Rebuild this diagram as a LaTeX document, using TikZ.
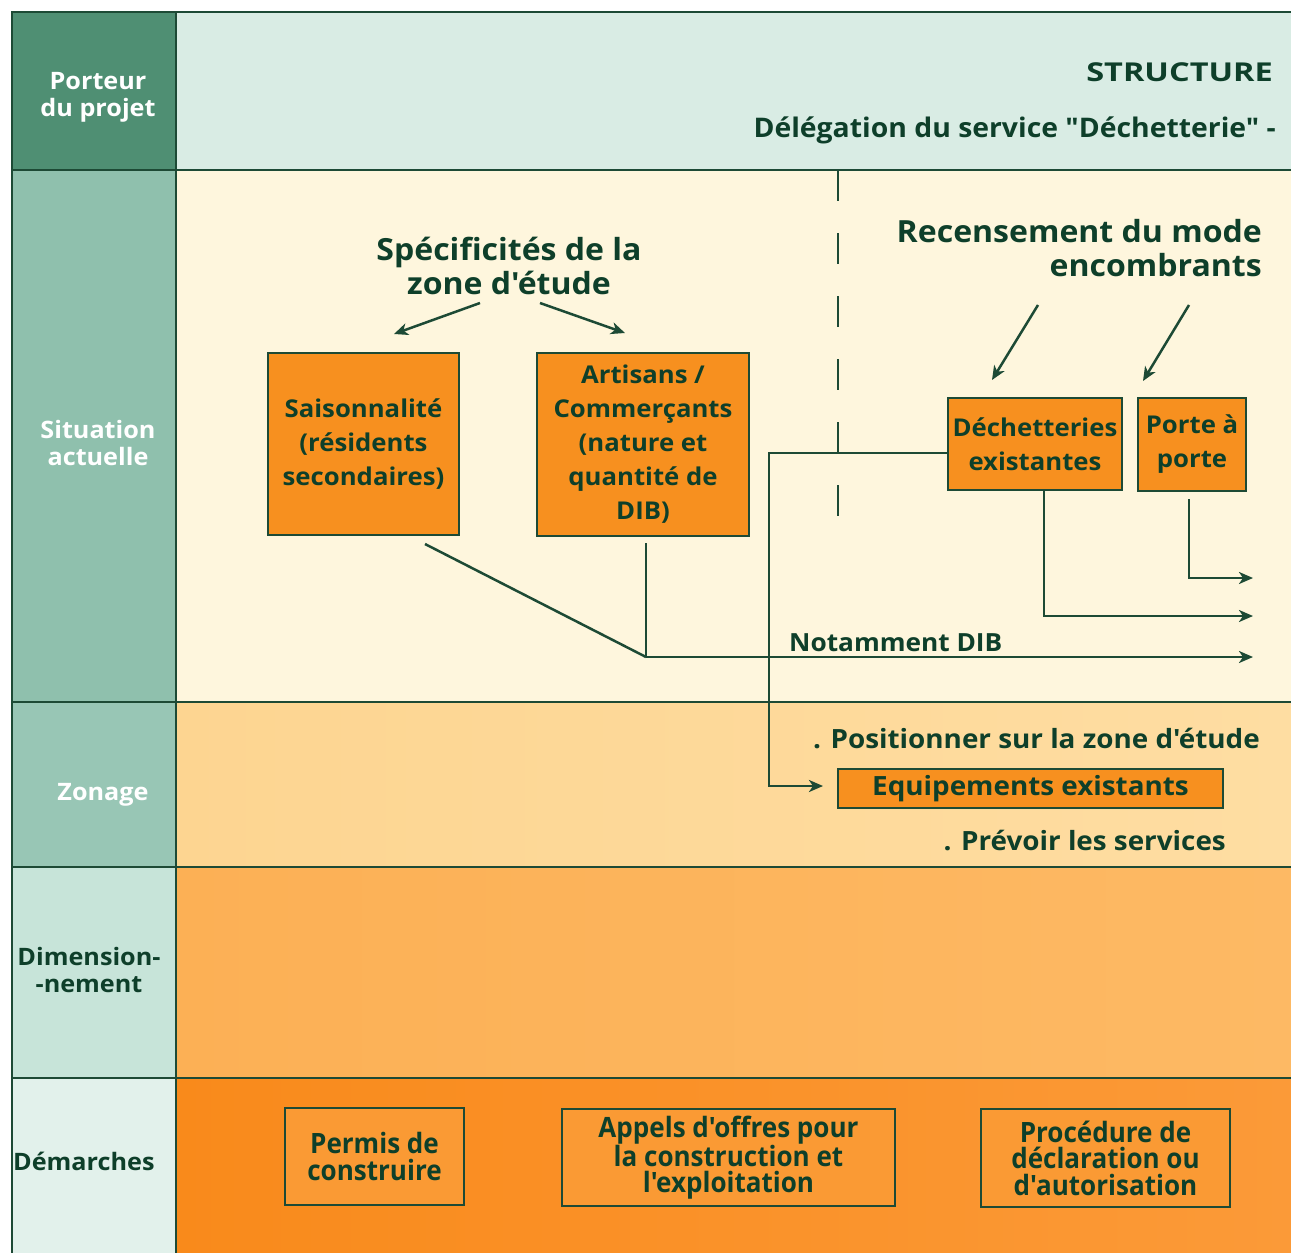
\documentclass[tikz,border=0pt]{standalone}
\usepackage{fontspec}
\newfontfamily\gs{Open Sans}[FakeStretch=1.05]
\newfontfamily\gswide{Open Sans}[FakeStretch=1.25]
\newfontfamily\gscond{Open Sans}[FakeStretch=0.93]
\usetikzlibrary{arrows.meta}

\definecolor{ink}{HTML}{0E3F2A}
\definecolor{rulec}{HTML}{1D4A35}
\definecolor{labA}{HTML}{4F8F73}
\definecolor{labB}{HTML}{8FC0AD}
\definecolor{labC}{HTML}{98C6B5}
\definecolor{labD}{HTML}{C7E4D9}
\definecolor{labE}{HTML}{E2F1EB}
\definecolor{bandA}{HTML}{D9ECE4}
\definecolor{bandB}{HTML}{FEF6DD}
\definecolor{bandC}{HTML}{FDD591}
\definecolor{bandCr}{HTML}{FEDDA2}
\definecolor{bandD}{HTML}{FCB055}
\definecolor{bandDr}{HTML}{FDB964}
\definecolor{bandE}{HTML}{F98A1B}
\definecolor{bandEr}{HTML}{FB9A38}
\definecolor{boxfill}{HTML}{F7901F}
\definecolor{boxlight}{HTML}{FA9A34}

\tikzset{
  frameline/.style={draw=rulec, line width=2.5pt},
  link/.style={draw=rulec, line width=2.5pt},
  arrowline/.style={link, -{Stealth[length=14pt,width=12pt,inset=4pt]}},
  lbl/.style={font=\gs\fontsize{24}{27}\selectfont\bfseries, align=center, inner sep=0pt},
  txt/.style={text=ink, font=\gs\fontsize{25}{34}\selectfont\bfseries, inner sep=0pt},
  linetxt/.style={text=ink, font=\gs\fontsize{26.5}{30}\selectfont\bfseries, inner sep=0pt},
  bigtxt/.style={text=ink, font=\gs\fontsize{30.5}{34}\selectfont\bfseries, inner sep=0pt},
  obox/.style={draw=rulec, line width=2pt, fill=boxfill, text=ink,
    font=\gs\fontsize{24.5}{34}\selectfont\bfseries, align=center, inner sep=0pt},
  dbox/.style={draw=rulec, line width=2pt, fill=boxlight, text=ink,
    font=\gscond\fontsize{28}{26.5}\selectfont\bfseries, align=center, inner sep=0pt},
}

\begin{document}
\begin{tikzpicture}[x=1pt,y=-1pt]
\useasboundingbox (0,0) rectangle (1291,1253);
\fill[white] (0,0) rectangle (1291,1253);

% row bands
\fill[bandA] (176,12) rectangle (1291,170);
\fill[bandB] (176,170) rectangle (1291,702);
\shade[left color=bandC, right color=bandCr] (176,702) rectangle (1291,867);
\shade[left color=bandD, right color=bandDr] (176,867) rectangle (1291,1078);
\shade[left color=bandE, right color=bandEr] (176,1078) rectangle (1291,1253);

% heading column
\fill[labA] (12,12) rectangle (176,170);
\fill[labB] (12,170) rectangle (176,702);
\fill[labC] (12,702) rectangle (176,867);
\fill[labD] (12,867) rectangle (176,1078);
\fill[labE] (12,1078) rectangle (176,1253);

% grid
\draw[frameline] (1291,12) -- (12,12) -- (12,1253);
\draw[frameline] (176,12) -- (176,1253);
\foreach \yy in {170,702,867,1078} \draw[frameline] (12,\yy) -- (1291,\yy);

% column headings
\node[lbl, text=white] (hPorteur) at (98,97.5) {Porteur\\du projet};
\node[lbl, text=white] (hSituation) at (98,442.5) {Situation\\actuelle};
\node[lbl, text=white, anchor=base] (hZonage) at (103,800) {Zonage};
\node[lbl, text=ink] (hDim) at (89,969.5) {Dimension-\\-nement};
\node[lbl, text=ink, anchor=base west] (hDem) at (13,1170) {Démarches};

% top row
\node[txt, font=\gswide\fontsize{26}{30}\selectfont\bfseries, anchor=base east] (structure) at (1273,81) {STRUCTURE};
\node[txt, font=\gs\fontsize{27}{30}\selectfont\bfseries, anchor=base east] (delegation) at (1276,137) {Délégation du service "Déchetterie" -};

% separator
\draw[rulec, line width=2pt, dash pattern=on 31pt off 32pt] (838,170) -- (838,523);

% current situation
\node[bigtxt, align=center] (spec) at (509,265.5) {Spécificités de la\\zone d'étude};
\node[bigtxt, align=right, anchor=east] (recens) at (1262,248.5) {Recensement du mode\\encombrants};

\node[obox, minimum width=191pt, minimum height=182pt] (sais) at (363.5,444) {Saisonnalité\\(résidents\\secondaires)};
\node[obox, minimum width=212pt, minimum height=183pt] (art) at (643,444.5) {Artisans /\\Commerçants\\(nature et\\quantité de\\DIB)};
\node[obox, minimum width=174pt, minimum height=92pt] (dech) at (1035,444) {Déchetteries\\existantes};
\node[obox, minimum width=108pt, minimum height=93pt] (porte) at (1192,444.5) {Porte à\\porte};

\coordinate (specL) at (480,303);
\coordinate (specLend) at (394,334);
\coordinate (specR) at (540,303);
\coordinate (specRend) at (625,333);
\draw[arrowline] (specL) -- (specLend);
\draw[arrowline] (specR) -- (specRend);

\coordinate (recA) at (1038,305);
\coordinate (recAend) at (992,380);
\coordinate (recB) at (1189,305);
\coordinate (recBend) at (1143,381);
\draw[arrowline] (recA) -- (recAend);
\draw[arrowline] (recB) -- (recBend);

\coordinate (hub) at (646,657);
\coordinate (dibEnd) at (1253,657);
\coordinate (dechEnd) at (1253,616);
\coordinate (porteEnd) at (1253,578);
\draw[link] ([shift={(61.5,8)}]sais.south) -- (hub);
\draw[link] ([shift={(3,6)}]art.south) -- (hub);
\draw[arrowline] (hub) -- (dibEnd);
\node[txt, anchor=base west] (notamment) at (789,651) {Notamment DIB};
\draw[arrowline] ([shift={(9,0)}]dech.south) |- (dechEnd);
\draw[arrowline] ([shift={(-3,7)}]porte.south) |- (porteEnd);

% zoning
\node[linetxt, anchor=base east] (posit) at (1260,748) {. Positionner sur la zone d'étude};
\node[obox, font=\gs\fontsize{26.5}{30}\selectfont\bfseries, minimum width=385pt, minimum height=39pt] (equip) at (1030.5,788.5) {Equipements existants};
\node[linetxt, anchor=base east] (prevoir) at (1226,850) {. Prévoir les services};

\coordinate (bend) at (769,786);
\coordinate (equipIn) at (823,786);
\draw[arrowline] ([shift={(0,9)}]dech.west) -| (bend) -- (equipIn);

% procedures
\node[dbox, minimum width=179pt, minimum height=97pt] (permis) at (374.5,1156.5) {Permis de\\construire};
\node[dbox, minimum width=333pt, minimum height=97pt] (appels) at (728.5,1157.5) {Appels d'offres pour\\la construction et\\l'exploitation};
\node[dbox, minimum width=249pt, minimum height=98pt] (proc) at (1105.5,1158) {Procédure de\\déclaration ou\\d'autorisation};
\end{tikzpicture}
\end{document}
